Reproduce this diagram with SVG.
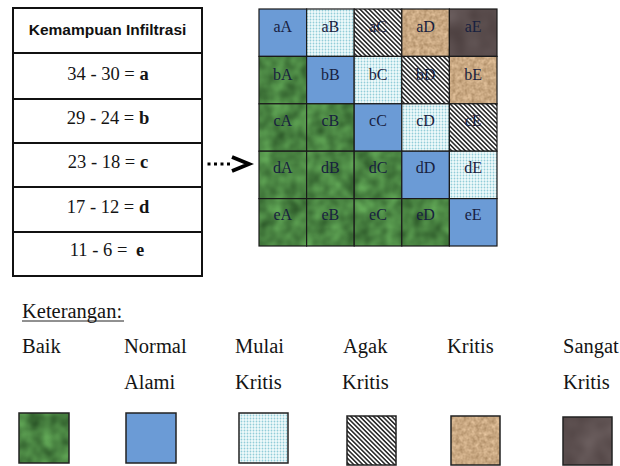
<svg xmlns="http://www.w3.org/2000/svg" width="620" height="466" viewBox="0 0 620 466">
  <style>
    .serif { font-family: 'Liberation Serif', 'DejaVu Serif', serif; fill: #141414; }
    .tbl-line { stroke: #111; stroke-width: 2; fill: none; }
    .tbl-txt { font-size: 18.5px; text-anchor: middle; }
    .cell-txt { font-family: 'Liberation Serif', 'DejaVu Serif', serif; font-size: 16px; text-anchor: middle; fill: #18213f; }
    .edge { fill: none; stroke: #1a1a1a; stroke-width: 1.2; }
    .sw-edge { fill: none; stroke: #222; stroke-width: 1.5; }
    .legend { font-size: 20.5px; }
    .green { fill: #4a8444; filter: url(#grass); }
    .blue { fill: #6b9bd6; }
    .dots { fill: url(#dotFill); }
    .hatch { fill: url(#hatchFill); }
    .sand { fill: #c9a882; filter: url(#sand); }
    .dark { fill: #5d5050; filter: url(#darkSoil); }
  </style>
  <defs>
    <filter id="grass" x="0" y="0" width="1" height="1" color-interpolation-filters="sRGB">
      <feTurbulence type="fractalNoise" baseFrequency="0.07" numOctaves="2" seed="4"/>
      <feColorMatrix type="matrix" values="0.28 0 0 0 0.15  0.42 0 0 0 0.31  0.24 0 0 0 0.14  0 0 0 0 1"/>
      <feComposite in2="SourceGraphic" operator="in"/>
    </filter>
    <filter id="sand" x="0" y="0" width="1" height="1" color-interpolation-filters="sRGB">
      <feTurbulence type="fractalNoise" baseFrequency="0.25" numOctaves="3" seed="9"/>
      <feColorMatrix type="matrix" values="0.3 0 0 0 0.64  0.3 0 0 0 0.51  0.3 0 0 0 0.36  0 0 0 0 1"/>
      <feComposite in2="SourceGraphic" operator="in"/>
    </filter>
    <filter id="darkSoil" x="0" y="0" width="1" height="1" color-interpolation-filters="sRGB">
      <feTurbulence type="fractalNoise" baseFrequency="0.04" numOctaves="2" seed="2"/>
      <feColorMatrix type="matrix" values="0.18 0 0 0 0.27  0.18 0 0 0 0.22  0.18 0 0 0 0.22  0 0 0 0 1"/>
      <feComposite in2="SourceGraphic" operator="in"/>
    </filter>
    <pattern id="dotFill" patternUnits="userSpaceOnUse" width="3" height="3">
      <rect width="3" height="3" fill="#f0fbfc"/>
      <circle cx="1.5" cy="1.5" r="0.9" fill="#92cdd8"/>
    </pattern>
    <pattern id="hatchFill" patternUnits="userSpaceOnUse" width="3.2" height="3.2" patternTransform="rotate(45)">
      <rect width="3.2" height="3.2" fill="#fff"/>
      <line x1="0" y1="1.6" x2="3.2" y2="1.6" stroke="#111" stroke-width="1.4"/>
    </pattern>
    <marker id="chev" viewBox="0 0 22 16" refX="0" refY="8" markerWidth="22" markerHeight="16" markerUnits="userSpaceOnUse" orient="auto" overflow="visible">
      <path d="M2,1 L19,8 L2,15" fill="none" stroke="#000" stroke-width="3.8" stroke-linejoin="miter"/>
    </marker>
  </defs>

  <rect width="620" height="466" fill="#fff"/>

  <!-- infiltration class table -->
  <g id="table">
    <rect class="tbl-line" x="13" y="8" width="189" height="268"/>
    <line class="tbl-line" x1="13" y1="53" x2="202" y2="53"/>
    <line class="tbl-line" x1="13" y1="99" x2="202" y2="99"/>
    <line class="tbl-line" x1="13" y1="143" x2="202" y2="143"/>
    <line class="tbl-line" x1="13" y1="187" x2="202" y2="187"/>
    <line class="tbl-line" x1="13" y1="232" x2="202" y2="232"/>
    <text x="107.5" y="35" text-anchor="middle" font-family="'Liberation Sans', Arial, sans-serif" font-weight="bold" font-size="15.5" fill="#111">Kemampuan Infiltrasi</text>
    <g font-family="'Liberation Serif', 'DejaVu Serif', serif">
      <text class="serif tbl-txt" x="108" y="80">34 - 30 = <tspan font-weight="bold">a</tspan></text>
      <text class="serif tbl-txt" x="108" y="124">29 - 24 = <tspan font-weight="bold">b</tspan></text>
      <text class="serif tbl-txt" x="108" y="168">23 - 18 = <tspan font-weight="bold">c</tspan></text>
      <text class="serif tbl-txt" x="108" y="213">17 - 12 = <tspan font-weight="bold">d</tspan></text>
      <text class="serif tbl-txt" x="107" y="256">11 - 6 = <tspan dx="4" font-weight="bold">e</tspan></text>
    </g>
  </g>

  <!-- 5x5 matrix, columns x: 259, 306.6, 354.2, 401.8, 449.4 ; rows y: 9, 56.4, 103.8, 151.2, 198.6 -->
  <g id="matrix" font-family="'Liberation Serif', 'DejaVu Serif', serif">
    <g id="cell-aA"><rect class="blue" x="259" y="9" width="47.6" height="47.4"/><rect class="edge" x="259" y="9" width="47.6" height="47.4"/><text class="cell-txt" x="282.8" y="32">aA</text></g>
    <g id="cell-aB"><rect class="dots" x="306.6" y="9" width="47.6" height="47.4"/><rect class="edge" x="306.6" y="9" width="47.6" height="47.4"/><text class="cell-txt" x="330.4" y="32">aB</text></g>
    <g id="cell-aC"><rect class="hatch" x="354.2" y="9" width="47.6" height="47.4"/><rect class="edge" x="354.2" y="9" width="47.6" height="47.4"/><text class="cell-txt" x="378" y="32">aC</text></g>
    <g id="cell-aD"><rect class="sand" x="401.8" y="9" width="47.6" height="47.4"/><rect class="edge" x="401.8" y="9" width="47.6" height="47.4"/><text class="cell-txt" x="425.6" y="32">aD</text></g>
    <g id="cell-aE"><rect class="dark" x="449.4" y="9" width="47.6" height="47.4"/><rect class="edge" x="449.4" y="9" width="47.6" height="47.4"/><text class="cell-txt" x="473.2" y="32">aE</text></g>

    <g id="cell-bA"><rect class="green" x="259" y="56.4" width="47.6" height="47.4"/><rect class="edge" x="259" y="56.4" width="47.6" height="47.4"/><text class="cell-txt" x="282.8" y="80">bA</text></g>
    <g id="cell-bB"><rect class="blue" x="306.6" y="56.4" width="47.6" height="47.4"/><rect class="edge" x="306.6" y="56.4" width="47.6" height="47.4"/><text class="cell-txt" x="330.4" y="80">bB</text></g>
    <g id="cell-bC"><rect class="dots" x="354.2" y="56.4" width="47.6" height="47.4"/><rect class="edge" x="354.2" y="56.4" width="47.6" height="47.4"/><text class="cell-txt" x="378" y="80">bC</text></g>
    <g id="cell-bD"><rect class="hatch" x="401.8" y="56.4" width="47.6" height="47.4"/><rect class="edge" x="401.8" y="56.4" width="47.6" height="47.4"/><text class="cell-txt" x="425.6" y="80">bD</text></g>
    <g id="cell-bE"><rect class="sand" x="449.4" y="56.4" width="47.6" height="47.4"/><rect class="edge" x="449.4" y="56.4" width="47.6" height="47.4"/><text class="cell-txt" x="473.2" y="80">bE</text></g>

    <g id="cell-cA"><rect class="green" x="259" y="103.8" width="47.6" height="47.4"/><rect class="edge" x="259" y="103.8" width="47.6" height="47.4"/><text class="cell-txt" x="282.8" y="126">cA</text></g>
    <g id="cell-cB"><rect class="green" x="306.6" y="103.8" width="47.6" height="47.4"/><rect class="edge" x="306.6" y="103.8" width="47.6" height="47.4"/><text class="cell-txt" x="330.4" y="126">cB</text></g>
    <g id="cell-cC"><rect class="blue" x="354.2" y="103.8" width="47.6" height="47.4"/><rect class="edge" x="354.2" y="103.8" width="47.6" height="47.4"/><text class="cell-txt" x="378" y="126">cC</text></g>
    <g id="cell-cD"><rect class="dots" x="401.8" y="103.8" width="47.6" height="47.4"/><rect class="edge" x="401.8" y="103.8" width="47.6" height="47.4"/><text class="cell-txt" x="425.6" y="126">cD</text></g>
    <g id="cell-cE"><rect class="hatch" x="449.4" y="103.8" width="47.6" height="47.4"/><rect class="edge" x="449.4" y="103.8" width="47.6" height="47.4"/><text class="cell-txt" x="473.2" y="126">cE</text></g>

    <g id="cell-dA"><rect class="green" x="259" y="151.2" width="47.6" height="47.4"/><rect class="edge" x="259" y="151.2" width="47.6" height="47.4"/><text class="cell-txt" x="282.8" y="173">dA</text></g>
    <g id="cell-dB"><rect class="green" x="306.6" y="151.2" width="47.6" height="47.4"/><rect class="edge" x="306.6" y="151.2" width="47.6" height="47.4"/><text class="cell-txt" x="330.4" y="173">dB</text></g>
    <g id="cell-dC"><rect class="green" x="354.2" y="151.2" width="47.6" height="47.4"/><rect class="edge" x="354.2" y="151.2" width="47.6" height="47.4"/><text class="cell-txt" x="378" y="173">dC</text></g>
    <g id="cell-dD"><rect class="blue" x="401.8" y="151.2" width="47.6" height="47.4"/><rect class="edge" x="401.8" y="151.2" width="47.6" height="47.4"/><text class="cell-txt" x="425.6" y="173">dD</text></g>
    <g id="cell-dE"><rect class="dots" x="449.4" y="151.2" width="47.6" height="47.4"/><rect class="edge" x="449.4" y="151.2" width="47.6" height="47.4"/><text class="cell-txt" x="473.2" y="173">dE</text></g>

    <g id="cell-eA"><rect class="green" x="259" y="198.6" width="47.6" height="47.4"/><rect class="edge" x="259" y="198.6" width="47.6" height="47.4"/><text class="cell-txt" x="282.8" y="220">eA</text></g>
    <g id="cell-eB"><rect class="green" x="306.6" y="198.6" width="47.6" height="47.4"/><rect class="edge" x="306.6" y="198.6" width="47.6" height="47.4"/><text class="cell-txt" x="330.4" y="220">eB</text></g>
    <g id="cell-eC"><rect class="green" x="354.2" y="198.6" width="47.6" height="47.4"/><rect class="edge" x="354.2" y="198.6" width="47.6" height="47.4"/><text class="cell-txt" x="378" y="220">eC</text></g>
    <g id="cell-eD"><rect class="green" x="401.8" y="198.6" width="47.6" height="47.4"/><rect class="edge" x="401.8" y="198.6" width="47.6" height="47.4"/><text class="cell-txt" x="425.6" y="220">eD</text></g>
    <g id="cell-eE"><rect class="blue" x="449.4" y="198.6" width="47.6" height="47.4"/><rect class="edge" x="449.4" y="198.6" width="47.6" height="47.4"/><text class="cell-txt" x="473.2" y="220">eE</text></g>
  </g>

  <!-- dotted arrow from the table to the matrix -->
  <g id="connectors">
    <line x1="207.5" y1="164" x2="230" y2="164" stroke="#000" stroke-width="3" stroke-dasharray="3 3.5" marker-end="url(#chev)"/>
  </g>

  <!-- legend -->
  <g id="legend" font-family="'Liberation Serif', 'DejaVu Serif', serif">
    <text class="serif legend" x="22" y="318">Keterangan:</text>
    <line x1="22" y1="321" x2="124" y2="321" stroke="#222" stroke-width="1"/>

    <g id="legend-baik">
      <text class="serif legend" x="22" y="353">Baik</text>
      <rect class="green" x="19" y="413" width="50" height="50"/>
      <rect class="sw-edge" x="19" y="413" width="50" height="50"/>
    </g>
    <g id="legend-normal">
      <text class="serif legend" x="124" y="353">Normal</text>
      <text class="serif legend" x="124" y="389">Alami</text>
      <rect class="blue" x="126" y="413" width="50" height="50"/>
      <rect class="sw-edge" x="126" y="413" width="50" height="50"/>
    </g>
    <g id="legend-mulai">
      <text class="serif legend" x="235" y="353">Mulai</text>
      <text class="serif legend" x="235" y="389">Kritis</text>
      <rect class="dots" x="239" y="413" width="49" height="50"/>
      <rect class="sw-edge" x="239" y="413" width="49" height="50"/>
    </g>
    <g id="legend-agak">
      <text class="serif legend" x="343" y="353">Agak</text>
      <text class="serif legend" x="342" y="389">Kritis</text>
      <rect class="hatch" x="347" y="416" width="49" height="49"/>
      <rect class="sw-edge" x="347" y="416" width="49" height="49"/>
    </g>
    <g id="legend-kritis">
      <text class="serif legend" x="447" y="353">Kritis</text>
      <rect class="sand" x="451" y="416" width="49" height="49"/>
      <rect class="sw-edge" x="451" y="416" width="49" height="49"/>
    </g>
    <g id="legend-sangat">
      <text class="serif legend" x="563" y="353">Sangat</text>
      <text class="serif legend" x="563" y="389">Kritis</text>
      <rect class="dark" x="563" y="417" width="49" height="48"/>
      <rect class="sw-edge" x="563" y="417" width="49" height="48"/>
    </g>
  </g>
</svg>
